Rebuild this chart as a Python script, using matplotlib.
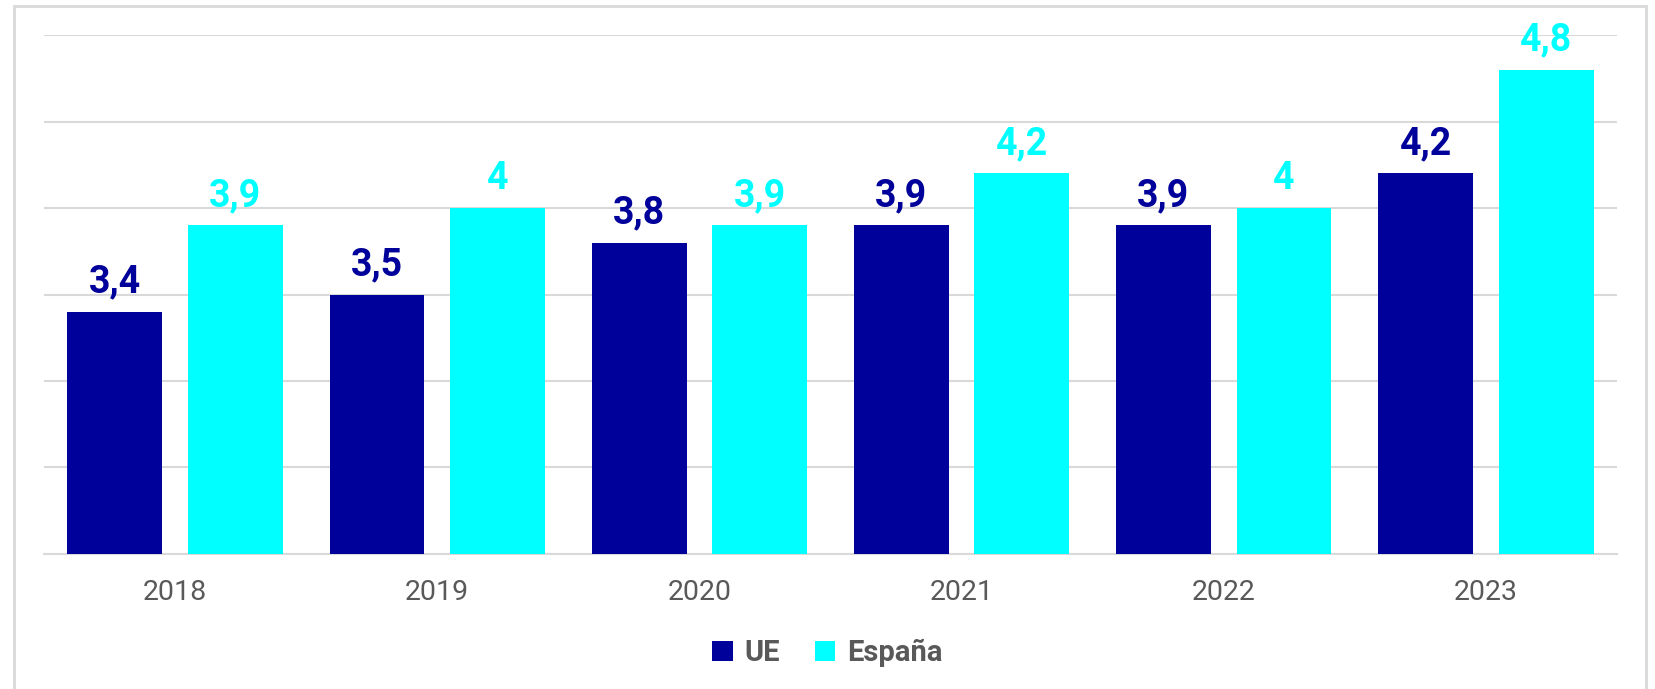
import matplotlib.pyplot as plt
from matplotlib.patches import Rectangle
import numpy as np

plt.rcParams['font.family'] = ['Roboto', 'DejaVu Sans']

# Data
years = ['2018', '2019', '2020', '2021', '2022', '2023']
ue = [3.4, 3.5, 3.8, 3.9, 3.9, 4.2]
espana = [3.9, 4.0, 3.9, 4.2, 4.0, 4.8]

ue_color = '#00009A'
es_color = '#00FFFF'
grey_text = '#595959'
grid_color = '#D9D9D9'


def fmt(v):
    s = f"{v:g}"
    return s.replace('.', ',')


fig = plt.figure(figsize=(16.55, 6.89), dpi=100)
ax = fig.add_axes([0.0266, 0.196, 0.9504, 0.753])

x = np.arange(len(years))
width = 0.362
off = 0.23
b1 = ax.bar(x - off, ue, width, color=ue_color, label='UE', zorder=3)
b2 = ax.bar(x + off, espana, width, color=es_color, label='España', zorder=3)

for rect, v in zip(b1, ue):
    ax.annotate(fmt(v), (rect.get_x() + rect.get_width() / 2, v),
                xytext=(0, 8), textcoords='offset points', ha='center', va='bottom',
                fontsize=27, fontweight='bold', color=ue_color)
for rect, v in zip(b2, espana):
    ax.annotate(fmt(v), (rect.get_x() + rect.get_width() / 2, v),
                xytext=(0, 8), textcoords='offset points', ha='center', va='bottom',
                fontsize=27, fontweight='bold', color=es_color)

ax.set_ylim(2.0, 5.0)
ax.set_xlim(-0.5, len(years) - 0.5)
ax.set_yticks(np.arange(2.0, 5.01, 0.5))
ax.yaxis.grid(True, color=grid_color, linewidth=1.5, zorder=0)
ax.tick_params(axis='y', left=False, labelleft=False)
ax.set_xticks(x)
ax.set_xticklabels(years, fontsize=20.5, color=grey_text)
ax.tick_params(axis='x', length=0, pad=18)
for side in ['top', 'right', 'left']:
    ax.spines[side].set_visible(False)
ax.spines['bottom'].set_color(grid_color)
ax.spines['bottom'].set_linewidth(1.5)

leg = fig.legend(handles=[b1, b2], labels=['UE', 'España'], loc='center',
                 bbox_to_anchor=(0.5, 1 - 653 / 689), ncol=2, frameon=False,
                 prop={'size': 21, 'weight': 'bold'}, handlelength=0.7, handleheight=0.7,
                 handletextpad=0.4, columnspacing=1.2)
for t in leg.get_texts():
    t.set_color(grey_text)

# outer border
fig.patches.append(Rectangle((14 / 1655, -0.05), (1646 - 14) / 1655, 1.05 - 6 / 689,
                             transform=fig.transFigure, fill=False,
                             edgecolor=grid_color, linewidth=2))

fig.savefig('out.png', dpi=100)
